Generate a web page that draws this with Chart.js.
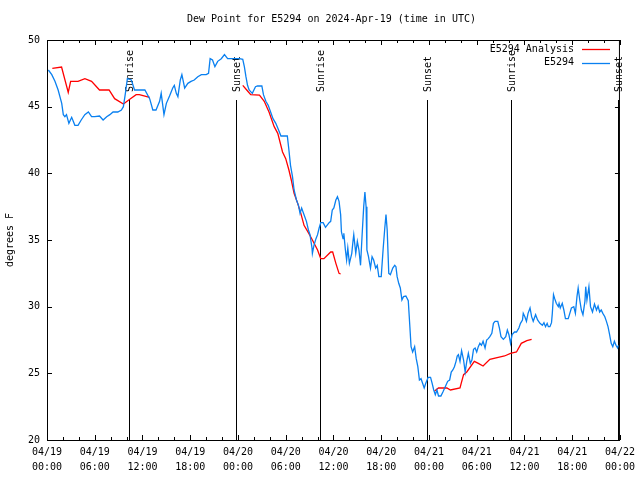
<!DOCTYPE html>
<html><head><meta charset="utf-8">
<script src="https://cdn.jsdelivr.net/npm/chart.js@4.4.1/dist/chart.umd.min.js"></script>
<style>html,body{margin:0;padding:0;background:#fff}canvas{display:block}</style>
</head><body>
<canvas id="c" width="640" height="480"></canvas>
<script>
// ---- data (hours since 2024-04-19 00:00 UTC) ----
const titleText = 'Dew Point for E5294 on 2024-Apr-19 (time in UTC)';
const yAxisTitle = 'degrees F';
const seriesNames = ['E5294 Analysis', 'E5294'];

const redHours = [0.67,1.83,2.67,2.97,3.9,4.76,5.6,6.6,7.8,8.5,9.6,10.4,11.2,11.6,12.9,
  18.0,
  24.6,25.1,25.6,26.7,27.3,27.9,28.55,29.0,29.6,30.0,30.4,30.7,31.05,31.5,31.9,32.3,32.9,33.35,34.0,34.4,34.8,35.65,35.9,36.3,36.7,36.9,
  42.0,
  48.7,49.2,50.25,50.7,51.9,52.05,52.35,52.75,53.7,54.2,54.8,55.65,56.7,57.5,58.25,59.0,59.6,60.3,60.9];
const redValues = [47.87,47.97,46.07,46.9,46.9,47.1,46.9,46.25,46.25,45.6,45.2,45.55,45.9,45.9,45.7,
  null,
  46.6,46.25,45.9,45.87,45.4,44.6,43.5,43.0,41.6,41.1,40.25,39.5,38.5,37.75,37.0,36.1,35.5,35.0,34.25,33.6,33.6,34.1,34.1,33.25,32.5,32.45,
  null,
  23.67,23.9,23.9,23.75,23.9,24.25,24.9,25.1,25.9,25.75,25.55,26.05,26.2,26.3,26.5,26.6,27.25,27.45,27.55];

const blueHours = [0.17,0.6,1.0,1.4,1.85,2.05,2.25,2.45,2.75,3.1,3.3,3.5,3.9,4.3,4.75,5.2,5.6,6.0,6.6,7.05,7.5,7.9,8.3,8.9,9.35,9.6,9.85,10.1,10.6,11.0,
  11.65,12.3,12.9,13.3,13.7,14.15,14.35,14.7,15.0,15.4,15.8,16.0,16.25,16.45,16.75,16.95,17.3,17.7,18.1,18.5,18.95,19.4,20.0,20.3,20.5,20.8,21.1,21.45,21.9,22.3,
  22.7,23.3,23.75,24.2,24.6,24.8,25.0,25.2,25.4,25.8,26.2,26.45,27.0,27.2,27.5,27.8,28.1,28.4,28.75,29.1,29.4,29.8,30.2,30.4,30.6,30.85,31.05,31.35,31.6,31.8,
  32.0,32.3,32.6,32.85,33.05,33.3,33.35,33.55,33.8,34.0,34.2,34.4,34.7,35.0,35.45,35.65,35.85,36.05,36.3,36.5,36.7,36.9,37.0,37.2,37.3,37.5,37.65,37.8,38.0,38.3,
  38.45,38.55,38.8,39.0,39.2,39.4,39.6,39.8,39.95,40.1,40.2,40.4,40.65,40.85,41.05,41.3,41.5,41.7,42.0,42.25,42.45,42.6,42.75,42.95,43.15,43.45,43.7,43.85,44.0,44.2,
  44.4,44.6,44.8,45.1,45.4,45.6,45.75,45.95,46.2,46.4,46.6,46.8,47.0,47.2,47.4,47.6,47.9,48.2,48.4,48.6,48.8,49.0,49.2,49.5,49.75,50.05,50.35,50.6,50.8,51.0,
  51.2,51.4,51.55,51.7,51.9,52.1,52.35,52.55,52.75,52.95,53.2,53.4,53.6,53.8,54.0,54.2,54.4,54.6,54.8,55.05,55.25,55.45,55.65,55.9,56.1,56.3,56.65,56.85,57.05,57.35,
  57.65,57.85,58.05,58.25,58.45,58.75,59.0,59.3,59.5,59.75,59.85,60.05,60.25,60.45,60.7,60.9,61.1,61.4,61.65,61.95,62.25,62.45,62.65,62.85,63.0,63.2,63.4,63.5,63.65,63.8,
  64.0,64.25,64.35,64.5,64.75,64.95,65.15,65.5,65.7,65.9,66.2,66.4,66.6,66.75,66.95,67.15,67.35,67.6,67.7,67.85,68.1,68.3,68.55,68.8,69.05,69.25,69.45,69.65,69.85,70.1,
  70.3,70.5,70.7,70.9,71.1,71.3,71.5,71.7,71.8];
const blueValues = [47.75,47.4,46.9,46.25,45.25,44.4,44.25,44.4,43.75,44.2,43.9,43.6,43.6,44.0,44.4,44.6,44.25,44.25,44.3,44.0,44.25,44.4,44.6,44.6,44.75,45.0,46.0,47.1,47.0,46.25,
  46.25,46.25,45.6,44.75,44.75,45.4,46.0,44.4,45.25,45.8,46.4,46.6,46.0,45.75,47.0,47.4,46.4,46.75,46.9,47.0,47.25,47.4,47.4,47.5,48.6,48.5,48.0,48.4,48.6,48.9,
  48.6,48.6,48.6,48.6,48.55,48.0,47.25,46.6,46.25,46.0,46.5,46.55,46.55,45.9,45.4,45.1,44.6,44.1,43.75,43.25,42.8,42.8,42.8,41.75,40.6,39.75,38.75,38.0,37.6,37.0,
  37.4,36.9,36.4,35.75,35.4,34.4,34.0,34.6,35.1,35.4,35.9,36.3,36.3,35.95,36.3,36.4,37.25,37.4,38.0,38.25,37.9,36.9,35.6,35.1,35.5,34.25,33.5,34.4,33.25,34.0,
  34.9,35.4,34.0,34.9,34.25,33.1,35.4,37.5,38.6,37.5,34.25,33.75,32.9,33.75,33.5,32.9,33.1,32.25,32.25,34.4,35.9,36.9,35.75,32.5,32.4,32.9,33.1,33.0,32.25,31.75,
  31.4,30.5,30.75,30.8,30.45,28.5,27.0,26.6,27.0,26.1,25.5,24.5,24.6,24.25,23.9,24.25,24.7,24.7,24.25,23.75,23.4,23.75,23.3,23.3,23.6,24.0,24.4,24.5,25.1,25.25,
  25.5,25.9,26.3,26.4,25.9,26.7,26.0,25.1,25.9,26.5,25.75,26.0,26.8,26.9,26.6,27.0,27.25,27.1,27.4,26.9,27.5,27.6,27.75,28.0,28.75,28.9,28.9,28.4,27.75,27.55,
  27.75,28.25,27.9,27.25,27.9,28.1,28.1,28.4,28.75,29.0,29.5,29.25,28.9,29.5,29.9,29.25,28.9,29.4,29.0,28.75,28.6,28.8,28.5,28.75,28.5,28.5,28.8,29.5,30.9,30.6,
  30.25,30.0,30.25,29.9,30.25,29.75,29.1,29.1,29.5,29.9,30.0,29.5,30.75,31.4,30.5,29.75,29.4,30.4,31.5,30.5,31.5,30.0,29.6,30.2,29.75,30.05,29.6,29.75,29.5,29.25,
  28.9,28.5,27.9,27.25,27.0,27.4,27.1,26.9,27.1];

const sunHours = [10.32, 23.75, 34.3, 47.77, 58.27, 71.8];
const sunLabels = ['Sunrise', 'Sunset', 'Sunrise', 'Sunset', 'Sunrise', 'Sunset'];

const xTickDates = ['04/19','04/19','04/19','04/19','04/20','04/20','04/20','04/20','04/21','04/21','04/21','04/21','04/22'];
const xTickTimes = ['00:00','06:00','12:00','18:00','00:00','06:00','12:00','18:00','00:00','06:00','12:00','18:00','00:00'];
const yTicks = [20, 25, 30, 35, 40, 45, 50];

const RED = '#ff0000';
const BLUE = '#0a80f0';
const FONT = '"DejaVu Sans Mono", "Liberation Mono", monospace';

Chart.defaults.font.family = FONT;
Chart.defaults.font.size = 10;
Chart.defaults.color = '#000';

const decor = {
  id: 'decor',
  beforeDatasetsDraw(chart) {
    const {ctx, chartArea: a, scales: {x}} = chart;
    ctx.save();
    ctx.strokeStyle = '#000'; ctx.lineWidth = 1; ctx.fillStyle = '#000';
    ctx.font = '10px ' + FONT;
    sunHours.forEach((h, i) => {
      const px = Math.round(x.getPixelForValue(h)) + 0.5;
      ctx.beginPath(); ctx.moveTo(px, a.bottom); ctx.lineTo(px, 100); ctx.stroke();
      ctx.save(); ctx.translate(px + 1, 92); ctx.rotate(-Math.PI / 2);
      ctx.textAlign = 'left'; ctx.textBaseline = 'middle';
      ctx.fillText(sunLabels[i], 0, 0);
      ctx.restore();
    });
    ctx.restore();
  },
  afterDraw(chart) {
    const {ctx, chartArea: a, scales: {x, y}} = chart;
    ctx.save();
    ctx.strokeStyle = '#000'; ctx.lineWidth = 1; ctx.fillStyle = '#000';
    // frame
    ctx.strokeRect(a.left + 0.5, a.top + 0.5, a.right - a.left - 1, a.bottom - a.top);
    // inward ticks
    ctx.beginPath();
    x.ticks.forEach(t => {
      const px = Math.round(x.getPixelForValue(t.value)) + 0.5;
      const len = (t.value % 6 === 0) ? 5 : 3;
      ctx.moveTo(px, a.bottom); ctx.lineTo(px, a.bottom - len);
      ctx.moveTo(px, a.top); ctx.lineTo(px, a.top + len);
    });
    y.ticks.forEach(t => {
      const py = Math.round(y.getPixelForValue(t.value)) + 0.5;
      ctx.moveTo(a.left, py); ctx.lineTo(a.left + 5, py);
      ctx.moveTo(a.right, py); ctx.lineTo(a.right - 5, py);
    });
    ctx.stroke();
    // title
    ctx.font = '10px ' + FONT;
    ctx.textAlign = 'center'; ctx.textBaseline = 'middle';
    ctx.fillText(titleText, (a.left + a.right) / 2 - 2, 19);
    // legend
    ctx.textAlign = 'right';
    chart.data.datasets.forEach((ds, i) => {
      const ly = 49 + i * 13.5;
      ctx.fillStyle = '#000';
      ctx.fillText(ds.label, 574, ly);
      ctx.strokeStyle = ds.borderColor; ctx.lineWidth = 1.3;
      ctx.beginPath(); ctx.moveTo(582, Math.round(ly) + 0.5); ctx.lineTo(610, Math.round(ly) + 0.5); ctx.stroke();
    });
    ctx.restore();
  }
};

new Chart(document.getElementById('c'), {
  type: 'line',
  data: {
    datasets: [
      { label: seriesNames[0], data: redHours.map((h, i) => ({x: h, y: redValues[i]})),
        borderColor: RED, borderWidth: 1.3, pointRadius: 0, tension: 0, spanGaps: false, order: 1 },
      { label: seriesNames[1], data: blueHours.map((h, i) => ({x: h, y: blueValues[i]})),
        borderColor: BLUE, borderWidth: 1.3, pointRadius: 0, tension: 0, order: 0 }
    ]
  },
  options: {
    responsive: false, animation: false, devicePixelRatio: 1,
    layout: { padding: { top: 40, right: 18, left: 0, bottom: 0 } },
    plugins: { legend: { display: false }, title: { display: false }, tooltip: { enabled: false } },
    scales: {
      x: {
        type: 'linear', min: 0, max: 72,
        grid: { display: true, drawOnChartArea: false, drawTicks: false },
        border: { display: false },
        afterFit(s) { s.height = 40; },
        afterBuildTicks(s) { const t = []; for (let v = 0; v <= 72; v += 2) t.push({value: v}); s.ticks = t; },
        ticks: {
          autoSkip: false, maxRotation: 0, minRotation: 0, padding: 5,
          font: { size: 10, lineHeight: 1.5 },
          callback: v => (v % 6 === 0) ? [xTickDates[v / 6], xTickTimes[v / 6]] : ''
        }
      },
      y: {
        min: 20, max: 50,
        grid: { display: true, drawOnChartArea: false, drawTicks: false },
        border: { display: false },
        afterFit(s) { s.width = 47; },
        afterBuildTicks(s) { s.ticks = yTicks.map(v => ({value: v})); },
        ticks: { padding: 7, font: { size: 10 } },
        title: { display: true, text: yAxisTitle, font: { size: 10 }, padding: 4 }
      }
    }
  },
  plugins: [decor]
});
</script>
</body></html>
